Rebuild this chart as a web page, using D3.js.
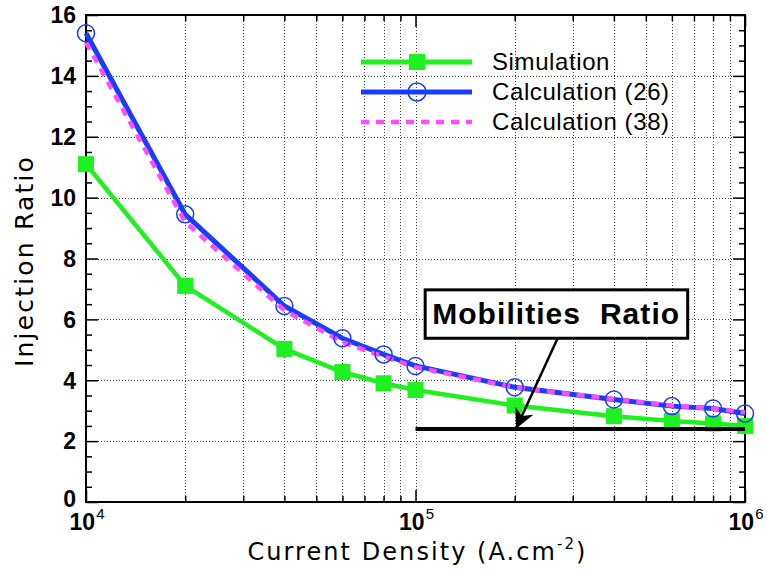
<!DOCTYPE html>
<html>
<head>
<meta charset="utf-8">
<script src="https://cdn.jsdelivr.net/npm/d3@7"></script>
<style>
  body { margin: 0; background: #fff; }
  text { font-family: "Liberation Sans", Arial, Helvetica, sans-serif; }
  text.title { font-family: "DejaVu Sans", "Liberation Sans", Arial, sans-serif; }
</style>
</head>
<body>
<svg id="chart" width="767" height="571"></svg>
<script>
// Current density (A.cm^-2) at which the injection ratio was evaluated
const currentDensity = [1e4, 2e4, 4e4, 6e4, 8e4, 1e5, 2e5, 4e5, 6e5, 8e5, 1e6];
// Injection ratio: simulation and the two analytical expressions
const simulation = [11.1, 7.1, 5.03, 4.27, 3.9, 3.68, 3.17, 2.82, 2.66, 2.58, 2.5];
const calculation26 = [15.4, 9.45, 6.44, 5.38, 4.85, 4.47, 3.77, 3.37, 3.15, 3.07, 2.91];
const calculation38 = [15.1, 9.2, 6.3, 5.25, 4.78, 4.43, 3.76, 3.38, 3.17, 3.07, 2.95];
// Mobilities ratio reference level, drawn over the upper current range
const mobilitiesRatio = 2.4;
const mobilitiesRange = [1e5, 1e6];
// Axis ticks
const yMajorTicks = [0, 2, 4, 6, 8, 10, 12, 14, 16];
const xDecadeExponents = [4, 5, 6];
const seriesNames = ["Simulation", "Calculation (26)", "Calculation (38)"];

const svg = d3.select("#chart");
const plotLeft = 86, plotRight = 745, plotTop = 15, plotBottom = 502;

const x = d3.scaleLog().domain([1e4, 1e6]).range([plotLeft, plotRight]);
const y = d3.scaleLinear().domain([0, 16]).range([plotBottom, plotTop]);

const decades = xDecadeExponents.map(e => Math.pow(10, e));
const xMinor = [];
for (let d = 1e4; d < 1e6; d *= 10) for (let k = 2; k <= 9; k++) xMinor.push(k * d);
const yMinor = d3.range(0, 16.01, 0.5).filter(v => v % 2 !== 0);

// Spread the letters of a text so it spans the given width
function fitWidth(sel, width) {
  const node = sel.node();
  const n = node.textContent.length;
  const natural = node.getComputedTextLength();
  sel.attr("letter-spacing", (width - natural) / n);
}

// Dotted grid
const grid = svg.append("g").attr("stroke", "#444").attr("stroke-width", 1)
  .attr("stroke-dasharray", "1,2").attr("shape-rendering", "crispEdges");
grid.selectAll("line.v").data(xMinor.concat([1e5])).join("line")
  .attr("x1", d => Math.round(x(d)) + 0.5).attr("x2", d => Math.round(x(d)) + 0.5)
  .attr("y1", plotTop).attr("y2", plotBottom);
grid.selectAll("line.h").data(yMajorTicks.filter(v => v > 0 && v < 16)).join("line")
  .attr("x1", plotLeft).attr("x2", plotRight)
  .attr("y1", d => Math.round(y(d)) + 0.5).attr("y2", d => Math.round(y(d)) + 0.5);

// Inward ticks on all four sides
function ticks(axisFn, scale, values, size, transform) {
  svg.append("g").attr("transform", transform)
    .call(axisFn(scale).tickValues(values).tickSizeInner(-size).tickSizeOuter(0).tickFormat(""))
    .call(g => g.select(".domain").remove())
    .call(g => g.selectAll("line").attr("stroke", "#000").attr("stroke-width", 1.5));
}
ticks(d3.axisLeft, y, yMajorTicks, 12, `translate(${plotLeft},0)`);
ticks(d3.axisLeft, y, yMinor, 6, `translate(${plotLeft},0)`);
ticks(d3.axisRight, y, yMajorTicks, 12, `translate(${plotRight},0)`);
ticks(d3.axisRight, y, yMinor, 6, `translate(${plotRight},0)`);
ticks(d3.axisBottom, x, decades, 12, `translate(0,${plotBottom})`);
ticks(d3.axisBottom, x, xMinor, 6, `translate(0,${plotBottom})`);
ticks(d3.axisTop, x, decades, 12, `translate(0,${plotTop})`);
ticks(d3.axisTop, x, xMinor, 6, `translate(0,${plotTop})`);

// Frame
svg.append("rect").attr("x", plotLeft).attr("y", plotTop)
  .attr("width", plotRight - plotLeft).attr("height", plotBottom - plotTop)
  .attr("fill", "none").attr("stroke", "#000").attr("stroke-width", 2);

// Tick labels
svg.append("g").selectAll("text").data(yMajorTicks).join("text")
  .attr("x", plotLeft - 10).attr("y", d => y(d) - (d === 0 ? 3 : 0)).attr("dy", "0.36em")
  .attr("text-anchor", "end").attr("font-size", 23).attr("font-weight", "bold")
  .text(d => d);
const xl = svg.append("g").selectAll("text").data(xDecadeExponents).join("text")
  .attr("x", d => x(Math.pow(10, d)) + 1).attr("y", plotBottom + 28)
  .attr("text-anchor", "middle").attr("font-size", 23).attr("font-weight", "bold");
xl.append("tspan").text("10");
xl.append("tspan").attr("dy", -11).attr("font-size", 15).attr("font-weight", "normal")
  .attr("dx", 1).text(d => d);

// Axis titles
const xTitle = svg.append("text").attr("class", "title")
  .attr("x", (plotLeft + plotRight) / 2 + 2).attr("y", 560)
  .attr("text-anchor", "middle").attr("font-size", 24)
  .call(t => {
    t.append("tspan").text("Current Density (A.cm");
    t.append("tspan").attr("dy", -11).attr("font-size", 15).text("-2");
    t.append("tspan").attr("dy", 11).text(")");
  });
fitWidth(xTitle, 340);
const yTitle = svg.append("text").attr("class", "title")
  .attr("transform", `translate(33,261) rotate(-90)`)
  .attr("text-anchor", "middle").attr("font-size", 25).text("Injection Ratio");
fitWidth(yTitle, 212);

// Series
const pts = vals => currentDensity.map((c, i) => [c, vals[i]]);
const line = d3.line().x(d => x(d[0])).y(d => y(d[1]));
const green = "#1ff01f", blue = "#1a3cff", magenta = "#ff4cff";

svg.append("path").datum(pts(simulation)).attr("d", line)
  .attr("fill", "none").attr("stroke", green).attr("stroke-width", 4.5);
svg.append("g").selectAll("rect").data(pts(simulation)).join("rect")
  .attr("x", d => x(d[0]) - 8).attr("y", d => y(d[1]) - 8)
  .attr("width", 16).attr("height", 16).attr("fill", green);

// Mobilities ratio level
svg.append("line")
  .attr("x1", x(mobilitiesRange[0])).attr("x2", x(mobilitiesRange[1]))
  .attr("y1", y(mobilitiesRatio)).attr("y2", y(mobilitiesRatio))
  .attr("stroke", "#000").attr("stroke-width", 4);

svg.append("path").datum(pts(calculation26)).attr("d", line)
  .attr("fill", "none").attr("stroke", blue).attr("stroke-width", 5);
svg.append("path").datum(pts(calculation38)).attr("d", line)
  .attr("fill", "none").attr("stroke", magenta).attr("stroke-width", 4.5)
  .attr("stroke-dasharray", "8,7");
svg.append("g").selectAll("circle").data(pts(calculation26)).join("circle")
  .attr("cx", d => x(d[0])).attr("cy", d => y(d[1])).attr("r", 8.5)
  .attr("fill", "none").attr("stroke", blue).attr("stroke-width", 1.5);

// Legend
const legendY = [62, 92, 122];
const lg = svg.append("g");
lg.append("line").attr("x1", 361).attr("x2", 472).attr("y1", legendY[0]).attr("y2", legendY[0])
  .attr("stroke", green).attr("stroke-width", 5);
lg.append("rect").attr("x", 409).attr("y", legendY[0] - 8).attr("width", 16).attr("height", 16).attr("fill", green);
lg.append("line").attr("x1", 361).attr("x2", 472).attr("y1", legendY[1]).attr("y2", legendY[1])
  .attr("stroke", blue).attr("stroke-width", 5);
lg.append("circle").attr("cx", 417).attr("cy", legendY[1]).attr("r", 9)
  .attr("fill", "none").attr("stroke", blue).attr("stroke-width", 1.5);
lg.append("line").attr("x1", 361).attr("x2", 472).attr("y1", legendY[2]).attr("y2", legendY[2])
  .attr("stroke", magenta).attr("stroke-width", 4.5).attr("stroke-dasharray", "8,7");
lg.selectAll("text").data(seriesNames).join("text")
  .attr("x", 492).attr("y", (d, i) => legendY[i] + 8)
  .attr("font-size", 24).attr("letter-spacing", 0.6).text(d => d);

// Annotation box with arrow pointing at the mobilities ratio level
const defs = svg.append("defs");
defs.append("marker").attr("id", "arrowhead").attr("viewBox", "0 0 10 10")
  .attr("refX", 9).attr("refY", 5).attr("markerWidth", 20).attr("markerHeight", 20)
  .attr("markerUnits", "userSpaceOnUse").attr("orient", "auto")
  .append("path").attr("d", "M0,0 L10,5 L0,10 L3,5 Z").attr("fill", "#000");

const boxX0 = x(1.07e5), boxX1 = x(6.7e5), boxY0 = y(6.97), boxY1 = y(5.38);
svg.append("line")
  .attr("x1", x(2.7e5)).attr("y1", boxY1)
  .attr("x2", x(2.03e5)).attr("y2", y(mobilitiesRatio) - 2)
  .attr("stroke", "#000").attr("stroke-width", 2.5).attr("marker-end", "url(#arrowhead)");
svg.append("rect").attr("x", boxX0).attr("y", boxY0)
  .attr("width", boxX1 - boxX0).attr("height", boxY1 - boxY0)
  .attr("fill", "#fff").attr("stroke", "#000").attr("stroke-width", 3);
const boxText = svg.append("text").attr("x", boxX0 + 7).attr("y", boxY0 + 34)
  .attr("font-size", 30).attr("font-weight", "bold")
  .style("white-space", "pre").text("Mobilities  Ratio");
fitWidth(boxText, 248);
</script>
</body>
</html>
